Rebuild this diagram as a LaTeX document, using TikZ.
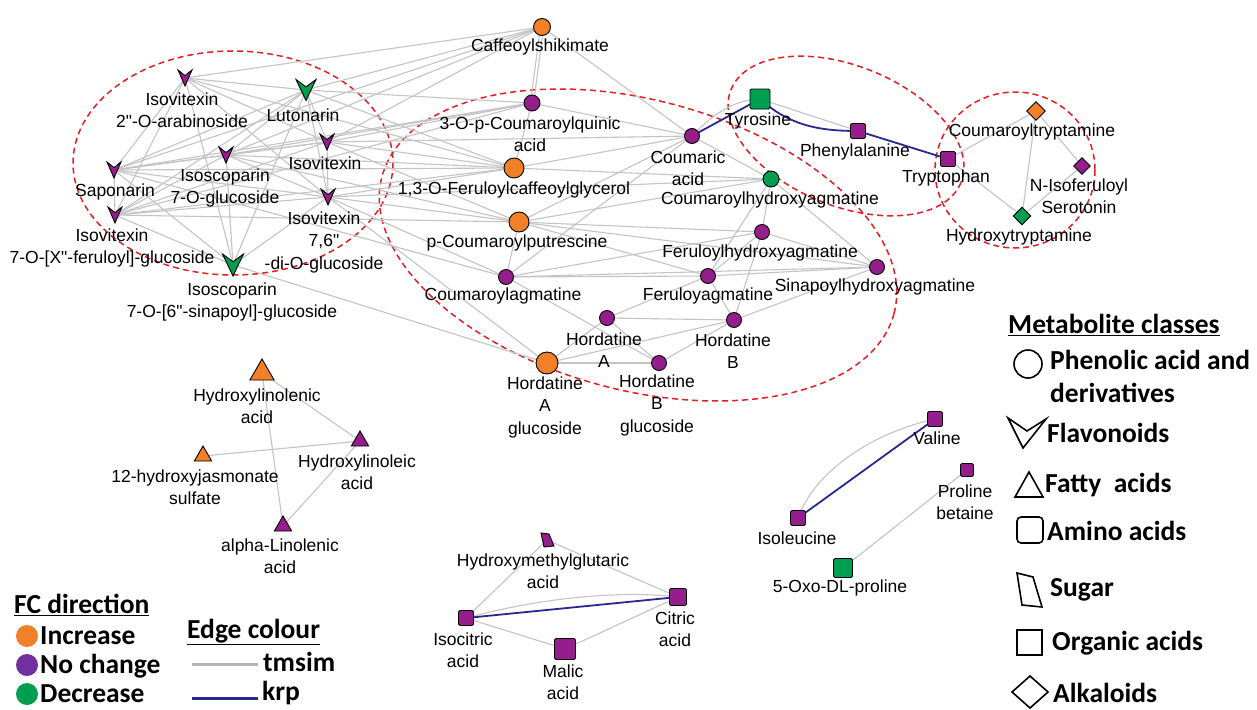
\documentclass[tikz,border=0pt]{standalone}
\usepackage{fontspec}
\setmainfont{Liberation Sans}[Ligatures=TeXOff]
\newfontfamily\legfont{Carlito}
\usetikzlibrary{shapes.geometric}
\definecolor{incr}{RGB}{242,128,40}
\definecolor{nochg}{RGB}{150,30,140}
\definecolor{decr}{RGB}{0,158,80}
\definecolor{legpurple}{RGB}{112,48,160}
\definecolor{edgegray}{RGB}{196,196,196}
\definecolor{leggray}{RGB}{180,180,180}
\definecolor{krpblue}{RGB}{40,40,145}
\definecolor{dashred}{RGB}{230,30,35}
\tikzset{
  edgeg/.style={draw=edgegray, line width=1.1pt},
  edgek/.style={draw=krpblue, line width=1.8pt},
  outl/.style={draw=black, line width=0.9pt},
  dotc/.style={circle, outl, inner sep=0pt, minimum size=#1pt},
  boxc/.style={rectangle, rounded corners=1.5pt, outl, inner sep=0pt, minimum size=#1pt},
  tric/.style={regular polygon, regular polygon sides=3, outl, inner sep=0pt, minimum size=#1pt},
  diac/.style={diamond, outl, inner sep=0pt, minimum width=#1pt, minimum height=#1pt},
  lbl/.style={font=\fontsize{17.5}{22.5}\selectfont, align=center, inner sep=0pt},
  legtxt/.style={font=\legfont\bfseries\fontsize{27.5}{30}\selectfont, inner sep=0pt, anchor=west},
  reddash/.style={draw=dashred, line width=1.5pt, dash pattern=on 6pt off 4pt},
  legshape/.style={draw=black, line width=1.6pt, fill=none},
}
\newcommand\chev[4]{\filldraw[outl, fill=#4, shift={(#1)}] (-#2/2,-#3/2) -- (0,-#3/2+0.35*#3) -- (#2/2,-#3/2) -- (0,#3/2) -- cycle;}
\begin{document}
\begin{tikzpicture}[x=1pt,y=-1pt]
\useasboundingbox (0,0) rectangle (1257,709);
\fill[white] (0,0) rectangle (1257,709);
% coordinates
\coordinate (ia) at (185,78);
\coordinate (lu) at (306,90);
\coordinate (iv) at (327,142);
\coordinate (ig) at (226,155);
\coordinate (sa) at (114,170);
\coordinate (ifr) at (115,215);
\coordinate (idg) at (328,197);
\coordinate (isn) at (233,265);
\coordinate (cs) at (542,27);
\coordinate (cq) at (532,103);
\coordinate (fcg) at (514,168);
\coordinate (cpu) at (519,222);
\coordinate (cag) at (506,277);
\coordinate (ha) at (607,318);
\coordinate (hag) at (547,363);
\coordinate (hbg) at (659,363);
\coordinate (ca) at (692,136);
\coordinate (chag) at (771,179);
\coordinate (fhag) at (762,232);
\coordinate (fag) at (708,276);
\coordinate (shag) at (877,267);
\coordinate (hb) at (734,320);
\coordinate (tyr) at (760,99);
\coordinate (phe) at (858,131);
\coordinate (trp) at (948,159);
\coordinate (ct) at (1036,111);
\coordinate (nis) at (1082,166);
\coordinate (ht) at (1022,216);
\coordinate (hyl) at (262,373);
\coordinate (hjs) at (203,456);
\coordinate (hle) at (360,441);
\coordinate (aln) at (283,526);
\coordinate (hmg) at (547,540);
\coordinate (ici) at (466,618);
\coordinate (cit) at (678,597);
\coordinate (mal) at (565,649);
\coordinate (val) at (935,419);
\coordinate (pb) at (967,470);
\coordinate (ile) at (798,518);
\coordinate (oxo) at (843,568);
% dashed cluster ellipses
\draw[reddash] (233,163) ellipse [x radius=160, y radius=112];
\draw[reddash, rotate around={-15:(638,245)}] (638,245) ellipse [x radius=265, y radius=145];
\draw[reddash, rotate around={-22:(846,136)}] (846,136) ellipse [x radius=124, y radius=70];
\draw[reddash] (1015,170) ellipse [x radius=80, y radius=78];
% gray edges
\foreach \a/\b in {ia/lu, ia/sa, ia/iv, ia/idg, ia/isn, ia/ifr,
  lu/iv, lu/ig, lu/sa, lu/ifr, lu/isn, lu/idg,
  iv/idg, iv/ig, iv/sa, iv/ifr, ig/sa, ig/ifr, ig/isn, ig/idg,
  sa/ifr, sa/idg, sa/isn, ifr/idg, ifr/isn, idg/isn,
  ia/cs, lu/cs, iv/cs, ig/cs, sa/cs,
  lu/cq, iv/cq, ig/cq, sa/cq, ifr/cq,
  ia/fcg, lu/fcg, iv/fcg, ig/fcg, sa/fcg, ifr/fcg, idg/fcg,
  iv/cpu, idg/cpu, ifr/cpu, ig/cpu, idg/cag, sa/cag,
  isn/hag, idg/hag, iv/ca, idg/chag,
  cs/ca, cq/fcg, fcg/ca, fcg/chag, cq/ca,
  cpu/ca, cpu/chag, cpu/fhag, cpu/shag, cpu/cag, cpu/fag,
  cag/ca, cag/fhag, cag/shag, cag/hbg, cag/fag,
  ca/chag, chag/fhag, chag/shag, chag/fag,
  fhag/fag, fhag/shag, fhag/hb, fag/ha, fag/shag, fag/hb,
  ha/hb, ha/hbg, ha/hag, hag/hbg, hag/hb, hbg/hb, hb/shag,
  tyr/phe, trp/ct, trp/ht, ct/nis, ct/ht, nis/ht,
  hyl/hle, hyl/aln, hjs/hle, hle/aln,
  hmg/ici, hmg/cit, ici/mal, mal/cit, oxo/pb}
  {\draw[edgeg] (\a) -- (\b);}
\draw[edgeg] ([xshift=-1.6pt]cs) -- ([xshift=-1.6pt]cq);
\draw[edgeg] ([xshift=1.6pt]cs) -- ([xshift=1.6pt]cq);
\draw[edgeg] (ca) .. controls (715,112) and (735,100) .. (tyr);
\draw[edgeg] (ici) .. controls (540,598) and (620,590) .. (cit);
\draw[edgeg] (ile) .. controls (815,470) and (875,432) .. (val);
% krp edges
\draw[edgek] (ca) -- (tyr);
\draw[edgek] (tyr) .. controls (790,126) and (820,131) .. (phe);
\draw[edgek] (phe) -- (trp);
\draw[edgek] (ici) -- (cit);
\draw[edgek] (ile) -- (val);
% flavonoid markers
\chev{ia}{14}{16}{nochg}
\chev{lu}{20}{21}{decr}
\chev{iv}{14}{16}{nochg}
\chev{ig}{14}{16}{nochg}
\chev{sa}{14}{16}{nochg}
\chev{ifr}{14}{16}{nochg}
\chev{idg}{14}{16}{nochg}
\chev{isn}{21}{22}{decr}
% phenolic markers
\node[dotc=17, fill=incr] (m-cs) at (cs) {};
\node[dotc=16, fill=nochg] (m-cq) at (cq) {};
\node[dotc=20, fill=incr] (m-fcg) at (fcg) {};
\node[dotc=20, fill=incr] (m-cpu) at (cpu) {};
\node[dotc=15, fill=nochg] (m-cag) at (cag) {};
\node[dotc=15, fill=nochg] (m-ha) at (ha) {};
\node[dotc=22, fill=incr] (m-hag) at (hag) {};
\node[dotc=15, fill=nochg] (m-hbg) at (hbg) {};
\node[dotc=15, fill=nochg] (m-ca) at (ca) {};
\node[dotc=16, fill=decr] (m-chag) at (chag) {};
\node[dotc=15, fill=nochg] (m-fhag) at (fhag) {};
\node[dotc=15, fill=nochg] (m-fag) at (fag) {};
\node[dotc=15, fill=nochg] (m-shag) at (shag) {};
\node[dotc=15, fill=nochg] (m-hb) at (hb) {};
% amino acid markers
\node[boxc=20, fill=decr] (m-tyr) at (tyr) {};
\node[boxc=15, fill=nochg] (m-phe) at (phe) {};
\node[boxc=15, fill=nochg] (m-trp) at (trp) {};
\node[boxc=15, fill=nochg] (m-val) at (val) {};
\node[boxc=13, fill=nochg] (m-pb) at (pb) {};
\node[boxc=15, fill=nochg] (m-ile) at (ile) {};
\node[boxc=19, fill=decr] (m-oxo) at (oxo) {};
% alkaloid markers
\node[diac=19, fill=incr] (m-ct) at (ct) {};
\node[diac=17, fill=nochg] (m-nis) at (nis) {};
\node[diac=18, fill=decr] (m-ht) at (ht) {};
% fatty acid markers
\node[tric=28, fill=incr] (m-hyl) at (hyl) {};
\node[tric=20, fill=incr] (m-hjs) at (hjs) {};
\node[tric=20, fill=nochg] (m-hle) at (hle) {};
\node[tric=20, fill=nochg] (m-aln) at (aln) {};
% organic acid markers
\filldraw[outl, fill=nochg, shift={(hmg)}] (-6,-7) -- (2,-6) -- (7,6) -- (-3,7) -- cycle;
\node[boxc=15, fill=nochg] (m-ici) at (ici) {};
\node[boxc=17, fill=nochg] (m-cit) at (cit) {};
\node[boxc=21, fill=nochg] (m-mal) at (mal) {};
% labels
\node[lbl] (l-ia) at (182,110) {Isovitexin\\2"-O-arabinoside};
\node[lbl] (l-lu) at (303,115) {Lutonarin};
\node[lbl] (l-iv) at (325,163) {Isovitexin};
\node[lbl] (l-ig) at (225,188) {Isoscoparin\\7-O-glucoside};
\node[lbl] (l-sa) at (115,192) {Saponarin};
\node[lbl] (l-ifr) at (112,248) {Isovitexin\\7-O-[X"-feruloyl]-glucoside};
\node[lbl] (l-idg) at (324,242) {Isovitexin\\7,6"\\-di-O-glucoside};
\node[lbl] (l-isn) at (232,302) {Isoscoparin\\7-O-[6"-sinapoyl]-glucoside};
\node[lbl] (l-cs) at (540,47) {Caffeoylshikimate};
\node[lbl] (l-cq) at (530,134) {3-O-p-Coumaroylquinic\\acid};
\node[lbl] (l-fcg) at (514,190) {1,3-O-Feruloylcaffeoylglycerol};
\node[lbl] (l-cpu) at (517,243) {p-Coumaroylputrescine};
\node[lbl] (l-cag) at (503,296) {Coumaroylagmatine};
\node[lbl] (l-ha) at (604,350) {Hordatine\\A};
\node[lbl] (l-hag) at (545,407) {Hordatine\\A\\glucoside};
\node[lbl] (l-hbg) at (657,405) {Hordatine\\B\\glucoside};
\node[lbl] (l-ca) at (688,168) {Coumaric\\acid};
\node[lbl] (l-tyr) at (758,121) {Tyrosine};
\node[lbl] (l-phe) at (855,152) {Phenylalanine};
\node[lbl] (l-trp) at (946,178) {Tryptophan};
\node[lbl] (l-chag) at (770,200) {Coumaroylhydroxyagmatine};
\node[lbl] (l-fhag) at (760,253) {Feruloylhydroxyagmatine};
\node[lbl] (l-fag) at (708,296) {Feruloyagmatine};
\node[lbl] (l-shag) at (875,287) {Sinapoylhydroxyagmatine};
\node[lbl] (l-hb) at (733,351) {Hordatine\\B};
\node[lbl] (l-ct) at (1032,132) {Coumaroyltryptamine};
\node[lbl] (l-nis) at (1079,196) {N-Isoferuloyl\\Serotonin};
\node[lbl] (l-ht) at (1019,237) {Hydroxytryptamine};
\node[lbl] (l-hyl) at (257,406) {Hydroxylinolenic\\acid};
\node[lbl] (l-hjs) at (195,487) {12-hydroxyjasmonate\\sulfate};
\node[lbl] (l-hle) at (357,472) {Hydroxylinoleic\\acid};
\node[lbl] (l-aln) at (280,556) {alpha-Linolenic\\acid};
\node[lbl] (l-hmg) at (543,571) {Hydroxymethylglutaric\\acid};
\node[lbl] (l-ici) at (463,650) {Isocitric\\acid};
\node[lbl] (l-cit) at (675,629) {Citric\\acid};
\node[lbl] (l-mal) at (563,682) {Malic\\acid};
\node[lbl] (l-val) at (937,438) {Valine};
\node[lbl] (l-pb) at (965,502) {Proline\\betaine};
\node[lbl] (l-ile) at (797,538) {Isoleucine};
\node[lbl] (l-oxo) at (840,588) {5-Oxo-DL-proline};
% FC legend
\node[legtxt] (lg-fc) at (14,605) {\underline{FC direction}};
\node[dotc=22, draw=none, fill=incr] (lg-d1) at (27,636) {};
\node[legtxt] (lg-inc) at (40,636) {Increase};
\node[dotc=22, draw=none, fill=legpurple] (lg-d2) at (27,665) {};
\node[legtxt] (lg-noc) at (40,666) {No change};
\node[dotc=22, draw=none, fill=decr] (lg-d3) at (27,694) {};
\node[legtxt] (lg-dec) at (40,694) {Decrease};
% edge legend
\node[legtxt] (lg-ec) at (187,632) {\underline{Edge colour}};
\coordinate (lg-t1) at (192,664);
\coordinate (lg-t2) at (258,664);
\draw[draw=leggray, line width=3pt] (lg-t1) -- (lg-t2);
\node[legtxt] (lg-tm) at (263,662) {tmsim};
\coordinate (lg-k1) at (192,698);
\coordinate (lg-k2) at (258,698);
\draw[draw=krpblue, line width=3pt] (lg-k1) -- (lg-k2);
\node[legtxt] (lg-krp) at (262,693) {krp};
% metabolite classes legend
\node[legtxt] (lg-mc) at (1008,325) {\underline{Metabolite classes}};
\node[circle, legshape, minimum size=28pt, inner sep=0pt] (lg-s1) at (1028,364) {};
\node[legtxt] (lg-ph1) at (1050,360) {Phenolic acid and};
\node[legtxt] (lg-ph2) at (1050,393) {derivatives};
\draw[legshape, line join=miter] (1008,418) -- (1027,431) -- (1046,419) -- (1023,448) -- cycle;
\node[legtxt] (lg-fl) at (1047,433) {Flavonoids};
\draw[legshape] (1015,497) -- (1029,472) -- (1043,497) -- cycle;
\node[legtxt] (lg-fa) at (1045,485) {Fatty\ \ acids};
\draw[legshape, rounded corners=4pt] (1017,517) rectangle (1043,543);
\node[legtxt] (lg-aa) at (1047,531) {Amino acids};
\draw[legshape] (1017,573) -- (1033,577) -- (1042,607) -- (1022,605) -- cycle;
\node[legtxt] (lg-su) at (1050,590) {Sugar};
\draw[legshape] (1017,630) rectangle (1042,655);
\node[legtxt] (lg-oa) at (1052,643) {Organic acids};
\draw[legshape] (1012,692) -- (1030,676) -- (1048,692) -- (1030,708) -- cycle;
\node[legtxt] (lg-al) at (1053,693) {Alkaloids};
\end{tikzpicture}
\end{document}
